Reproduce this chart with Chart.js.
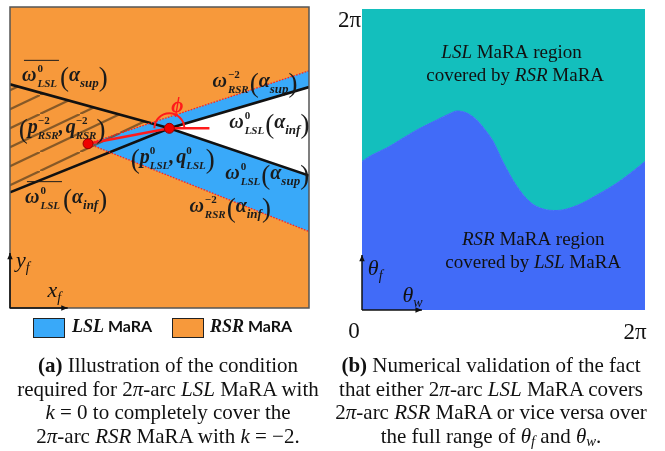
<!DOCTYPE html>
<html>
<head>
<meta charset="utf-8">
<script src="https://cdn.jsdelivr.net/npm/chart.js@4.4.0/dist/chart.umd.min.js"></script>
<style>
  html, body { margin: 0; padding: 0; background: #fff; width: 665px; height: 451px; overflow: hidden; position: relative; }
  canvas { position: absolute; top: 0; }
  #chartA { left: 0; }
  #chartB { left: 330px; }
  .cap { position: absolute; width: 440px; font-family: "Liberation Serif", serif; font-size: 21px; line-height: 23.5px;
         text-align: center; white-space: nowrap; color: #111; }
  .cap sub { font-size: 70%; vertical-align: -3px; line-height: 0; }
  .sw { position: absolute; width: 30px; height: 18px; border: 1.5px solid #222; top: 318px; }
  .lt { position: absolute; top: 316px; font-family: Lato, sans-serif; font-weight: bold; font-size: 16px; color: #111; }
  .lt i { font-family: "Liberation Serif", serif; font-size: 18px; }
</style>
</head>
<body>
<canvas id="chartA" width="330" height="345"></canvas>
<canvas id="chartB" width="335" height="345"></canvas>

<div class="sw" style="left:33px;background:#39a9f9"></div>
<div class="lt" style="left:72px"><i>LSL</i> MaRA</div>
<div class="sw" style="left:172px;background:#f7993b"></div>
<div class="lt" style="left:210px"><i>RSR</i> MaRA</div>

<div class="cap" style="left:-52px;top:354px">
  <b>(a)</b> Illustration of the condition<br>
  required for 2<i>π</i>-arc <i>LSL</i> MaRA with<br>
  <i>k</i> = 0 to completely cover the<br>
  2<i>π</i>-arc <i>RSR</i> MaRA with <i>k</i> = −2.
</div>
<div class="cap" style="left:271px;top:354px">
  <b>(b)</b> Numerical validation of the fact<br>
  that either 2<i>π</i>-arc <i>LSL</i> MaRA covers<br>
  2<i>π</i>-arc <i>RSR</i> MaRA or vice versa over<br>
  the full range of <i>θ<sub>f</sub></i> and <i>θ<sub>w</sub></i>.
</div>

<script>
// ---- panel (a): geometry in x_f / y_f units, box is 0..10 both ways
const pRSR = [2.61, 5.46];        // (p_RSR^-2, q_RSR^-2)
const pLSL = [5.33, 5.97];        // (p_LSL^0, q_LSL^0)
const rsrSupEnd = [10, 7.88];     // omega_RSR^-2(alpha_sup)
const rsrInfEnd = [10, 2.54];     // omega_RSR^-2(alpha_inf)
const lslInfEnd = [10, 7.34];     // omega_LSL^0(alpha_inf)
const lslSupEnd = [10, 4.40];     // omega_LSL^0(alpha_sup)
const barSupStart = [0, 7.43];    // bar omega_LSL^0(alpha_sup)
const barInfStart = [0, 3.84];    // bar omega_LSL^0(alpha_inf)
const phiRayEnd = [6.67, 5.97];

// ---- panel (b): boundary between the two regions
const thetaW = [0, 0.222, 0.548, 0.844, 1.214, 1.658, 1.954, 2.109, 2.325, 2.547, 2.769, 2.908,
  3.131, 3.435, 3.730, 4.019, 4.329, 4.773, 5.217, 5.662, 6.106, 6.283];
const thetaF = [3.100, 3.235, 3.382, 3.549, 3.757, 3.966, 4.102, 4.154, 4.112, 3.966, 3.716, 3.528,
  3.089, 2.588, 2.254, 2.108, 2.077, 2.181, 2.401, 2.651, 2.964, 3.100];
const tickLabels = ['0', '2π'];
const TWO_PI = 6.2832;

const ORANGE = '#f7993b', LBLUE = '#39a9f9', TEAL = '#13bfbd', DBLUE = '#416bf8';
const pts = arr => arr.map(p => ({x: p[0], y: p[1]}));

// hatch pattern for the left wedge
function hatch() {
  const c = document.createElement('canvas');
  c.width = 40; c.height = 19;
  const g = c.getContext('2d');
  g.strokeStyle = 'rgba(105,72,35,0.8)';
  g.lineWidth = 2.2;
  for (const [dx, dy] of [[0,0],[-40,19],[40,-19]]) {
    g.beginPath(); g.moveTo(dx, 19 + dy); g.lineTo(40 + dx, dy); g.stroke();
  }
  return g.createPattern(c, 'repeat');
}

const F = "\"Liberation Serif\", serif";
const BI = s => `bold italic ${s}px ${F}`;

// parenthesis: tall but tight
function paren(ctx, ch, x, y) {
  ctx.font = `27px ${F}`;
  ctx.fillText(ch, x - 1, y + 5);
  return ctx.measureText(ch).width - 2;
}

function omega(ctx, x, y, o) {
  ctx.fillStyle = '#1b1b1b';
  ctx.font = BI(20); ctx.fillText('ω', x, y);
  let cx = x + ctx.measureText('ω').width + 1;
  ctx.font = `bold 11px ${F}`; const ws = ctx.measureText(o.sup).width; ctx.fillText(o.sup, cx, y - 9);
  ctx.font = BI(11); const wb = ctx.measureText(o.sub).width; ctx.fillText(o.sub, cx, y + 6);
  const end = cx + Math.max(ws, wb);
  if (o.bar) {
    ctx.strokeStyle = '#1b1b1b'; ctx.lineWidth = 1;
    ctx.beginPath(); ctx.moveTo(x + 2, y - 21); ctx.lineTo(end + 2, y - 21); ctx.stroke();
  }
  cx = end + (o.bar ? 4 : 2);
  cx += paren(ctx, '(', cx, y) + 1;
  ctx.font = BI(20); ctx.fillText('α', cx, y); cx += ctx.measureText('α').width;
  ctx.font = BI(13); ctx.fillText(o.arg, cx, y + 6); cx += ctx.measureText(o.arg).width + 1;
  paren(ctx, ')', cx, y);
}

function pq(ctx, x, y, sup, sub) {
  ctx.fillStyle = '#1b1b1b';
  let cx = x;
  cx += paren(ctx, '(', cx, y) + 1;
  for (const [k, ch] of ['p', 'q'].entries()) {
    ctx.font = BI(20); ctx.fillText(ch, cx, y); cx += ctx.measureText(ch).width;
    ctx.font = `bold 11px ${F}`; const ws = ctx.measureText(sup).width; ctx.fillText(sup, cx, y - 9);
    ctx.font = BI(11); const wb = ctx.measureText(sub).width; ctx.fillText(sub, cx, y + 6);
    cx += Math.max(ws, wb);
    if (k === 0) { ctx.font = BI(20); ctx.fillText(',', cx, y); cx += ctx.measureText(',').width + 2; }
  }
  paren(ctx, ')', cx + 1, y);
}

function arrowLine(ctx, x0, y0, x1, y1) {
  ctx.beginPath(); ctx.moveTo(x0, y0); ctx.lineTo(x1, y1); ctx.stroke();
  const a = Math.atan2(y1 - y0, x1 - x0);
  ctx.beginPath();
  ctx.moveTo(x1, y1);
  ctx.lineTo(x1 - 7 * Math.cos(a - 0.4), y1 - 7 * Math.sin(a - 0.4));
  ctx.lineTo(x1 - 7 * Math.cos(a + 0.4), y1 - 7 * Math.sin(a + 0.4));
  ctx.closePath(); ctx.fill();
}

function subText(ctx, x, y, base, sub, size) {
  ctx.font = `italic ${size}px ${F}`; ctx.fillText(base, x, y);
  const w = ctx.measureText(base).width;
  ctx.font = `italic ${Math.round(size * 0.62)}px ${F}`; ctx.fillText(sub, x + w, y + 5);
}

const panelA = {
  id: 'panelA',
  beforeDraw(chart) {
    const {ctx, chartArea: a} = chart;
    ctx.save(); ctx.fillStyle = ORANGE; ctx.fillRect(a.left, a.top, a.right - a.left, a.bottom - a.top); ctx.restore();
  },
  afterDraw(chart) {
    const {ctx, chartArea: a, scales: {x, y}} = chart;
    const X = v => x.getPixelForValue(v), Y = v => y.getPixelForValue(v);
    ctx.save();
    ctx.strokeStyle = '#555'; ctx.lineWidth = 1.5;
    ctx.strokeRect(a.left, a.top, a.right - a.left, a.bottom - a.top);
    // axes arrows
    ctx.strokeStyle = '#111'; ctx.fillStyle = '#111'; ctx.lineWidth = 1.5;
    arrowLine(ctx, X(0), Y(0), X(0), Y(1.83));
    arrowLine(ctx, X(0), Y(0), X(1.93), Y(0));
    subText(ctx, X(0.2), Y(1.37), 'y', 'f', 22);
    subText(ctx, X(1.25), Y(0.37), 'x', 'f', 22);
    // phi arc
    ctx.strokeStyle = '#ff1a1a'; ctx.lineWidth = 2;
    ctx.beginPath(); ctx.arc(X(pLSL[0]), Y(pLSL[1]), 15, Math.PI, 2 * Math.PI); ctx.stroke();
    ctx.fillStyle = '#ff1a1a'; ctx.font = BI(21); ctx.fillText('ϕ', X(pLSL[0]) + 2, Y(pLSL[1]) - 16);
    // labels
    omega(ctx, X(0.4), Y(7.53), {bar: true, sup: '0', sub: 'LSL', arg: 'sup'});
    omega(ctx, X(0.5), Y(3.5), {bar: true, sup: '0', sub: 'LSL', arg: 'inf'});
    omega(ctx, X(6.77), Y(7.33), {sup: '−2', sub: 'RSR', arg: 'sup'});
    omega(ctx, X(7.33), Y(5.97), {sup: '0', sub: 'LSL', arg: 'inf'});
    omega(ctx, X(7.2), Y(4.27), {sup: '0', sub: 'LSL', arg: 'sup'});
    omega(ctx, X(6.0), Y(3.2), {sup: '−2', sub: 'RSR', arg: 'inf'});
    pq(ctx, X(0.33), Y(5.83), '−2', 'RSR');
    pq(ctx, X(4.07), Y(4.83), '0', 'LSL');
    ctx.restore();
  }
};

const line = (data, extra) => Object.assign({data: pts(data), pointRadius: 0, borderWidth: 0, fill: false, tension: 0}, extra);

new Chart(document.getElementById('chartA'), {
  type: 'line',
  data: {
    datasets: [
      line([pRSR, rsrSupEnd, rsrInfEnd], {fill: 'shape', backgroundColor: LBLUE, order: 10}),
      line([pLSL, lslInfEnd, lslSupEnd], {fill: 'shape', backgroundColor: '#ffffff', order: 9}),
      line([barSupStart, pLSL, barInfStart], {fill: 'shape', backgroundColor: hatch(), order: 8}),
      line([barSupStart, pLSL, lslSupEnd], {borderColor: '#111', borderWidth: 2.6, order: 5}),
      line([barInfStart, pLSL, lslInfEnd], {borderColor: '#111', borderWidth: 2.6, order: 5}),
      line([rsrSupEnd, pRSR, rsrInfEnd], {borderColor: '#ff2020', borderWidth: 1.3, borderDash: [1.5, 1.5], order: 4}),
      line([pRSR, pLSL, phiRayEnd], {borderColor: '#ff1a1a', borderWidth: 2.6, order: 3}),
      line([pRSR, pLSL], {showLine: false, pointRadius: 5, pointBackgroundColor: '#ee0000', pointBorderColor: '#990000', pointBorderWidth: 1, order: 1})
    ]
  },
  options: {
    responsive: false, animation: false,
    layout: {padding: {left: 10, top: 7, right: 21, bottom: 37}},
    scales: {
      x: {type: 'linear', min: 0, max: 10, display: false},
      y: {type: 'linear', min: 0, max: 10, display: false}
    },
    plugins: {legend: {display: false}, tooltip: {enabled: false}}
  },
  plugins: [panelA]
});

// ---- panel (b)
function richCentered(ctx, cx, y, segs, size) {
  let total = 0;
  const ws = segs.map(([t, it]) => { ctx.font = `${it ? 'italic ' : ''}${size}px ${F}`; const w = ctx.measureText(t).width; total += w; return w; });
  let x = cx - total / 2;
  segs.forEach(([t, it], i) => { ctx.font = `${it ? 'italic ' : ''}${size}px ${F}`; ctx.fillText(t, x, y); x += ws[i]; });
}

const panelB = {
  id: 'panelB',
  afterDraw(chart) {
    const {ctx, scales: {x, y}} = chart;
    const X = v => x.getPixelForValue(v), Y = v => y.getPixelForValue(v);
    ctx.save();
    ctx.fillStyle = '#111';
    richCentered(ctx, X(3.32), Y(5.25), [['LSL', true], [' MaRA region', false]], 19);
    richCentered(ctx, X(3.4), Y(4.79), [['covered by ', false], ['RSR', true], [' MaRA', false]], 19);
    richCentered(ctx, X(3.8), Y(1.36), [['RSR', true], [' MaRA region', false]], 19);
    richCentered(ctx, X(3.8), Y(0.88), [['covered by ', false], ['LSL', true], [' MaRA', false]], 19);
    // tick labels
    ctx.font = `23px ${F}`;
    ctx.textAlign = 'right'; ctx.fillText(tickLabels[1], X(0) - 1, Y(TWO_PI) + 18);
    ctx.textAlign = 'center'; ctx.fillText(tickLabels[0], X(0) - 8, Y(0) + 28);
    ctx.fillText(tickLabels[1], X(TWO_PI) - 10, Y(0) + 29);
    ctx.textAlign = 'left';
    // axis arrows
    ctx.strokeStyle = '#111'; ctx.lineWidth = 1.5;
    arrowLine(ctx, X(0), Y(0), X(0), Y(1.15));
    arrowLine(ctx, X(0), Y(0), X(1.33), Y(0));
    subText(ctx, X(0.13), Y(0.73), 'θ', 'f', 22);
    subText(ctx, X(0.9), Y(0.17), 'θ', 'w', 22);
    ctx.restore();
  }
};

const boundary = thetaW.map((w, i) => ({x: w, y: thetaF[i]}));
new Chart(document.getElementById('chartB'), {
  type: 'line',
  data: {
    datasets: [
      {data: boundary, fill: 'start', backgroundColor: DBLUE, borderColor: DBLUE, borderWidth: 1, pointRadius: 0, cubicInterpolationMode: 'monotone', order: 1},
      {data: boundary, fill: 'end', backgroundColor: TEAL, borderWidth: 0, pointRadius: 0, cubicInterpolationMode: 'monotone', order: 2}
    ]
  },
  options: {
    responsive: false, animation: false,
    layout: {padding: {left: 32, top: 9, right: 20, bottom: 35}},
    scales: {
      x: {type: 'linear', min: 0, max: TWO_PI, display: false},
      y: {type: 'linear', min: 0, max: TWO_PI, display: false}
    },
    plugins: {legend: {display: false}, tooltip: {enabled: false}}
  },
  plugins: [panelB]
});
</script>
</body>
</html>
